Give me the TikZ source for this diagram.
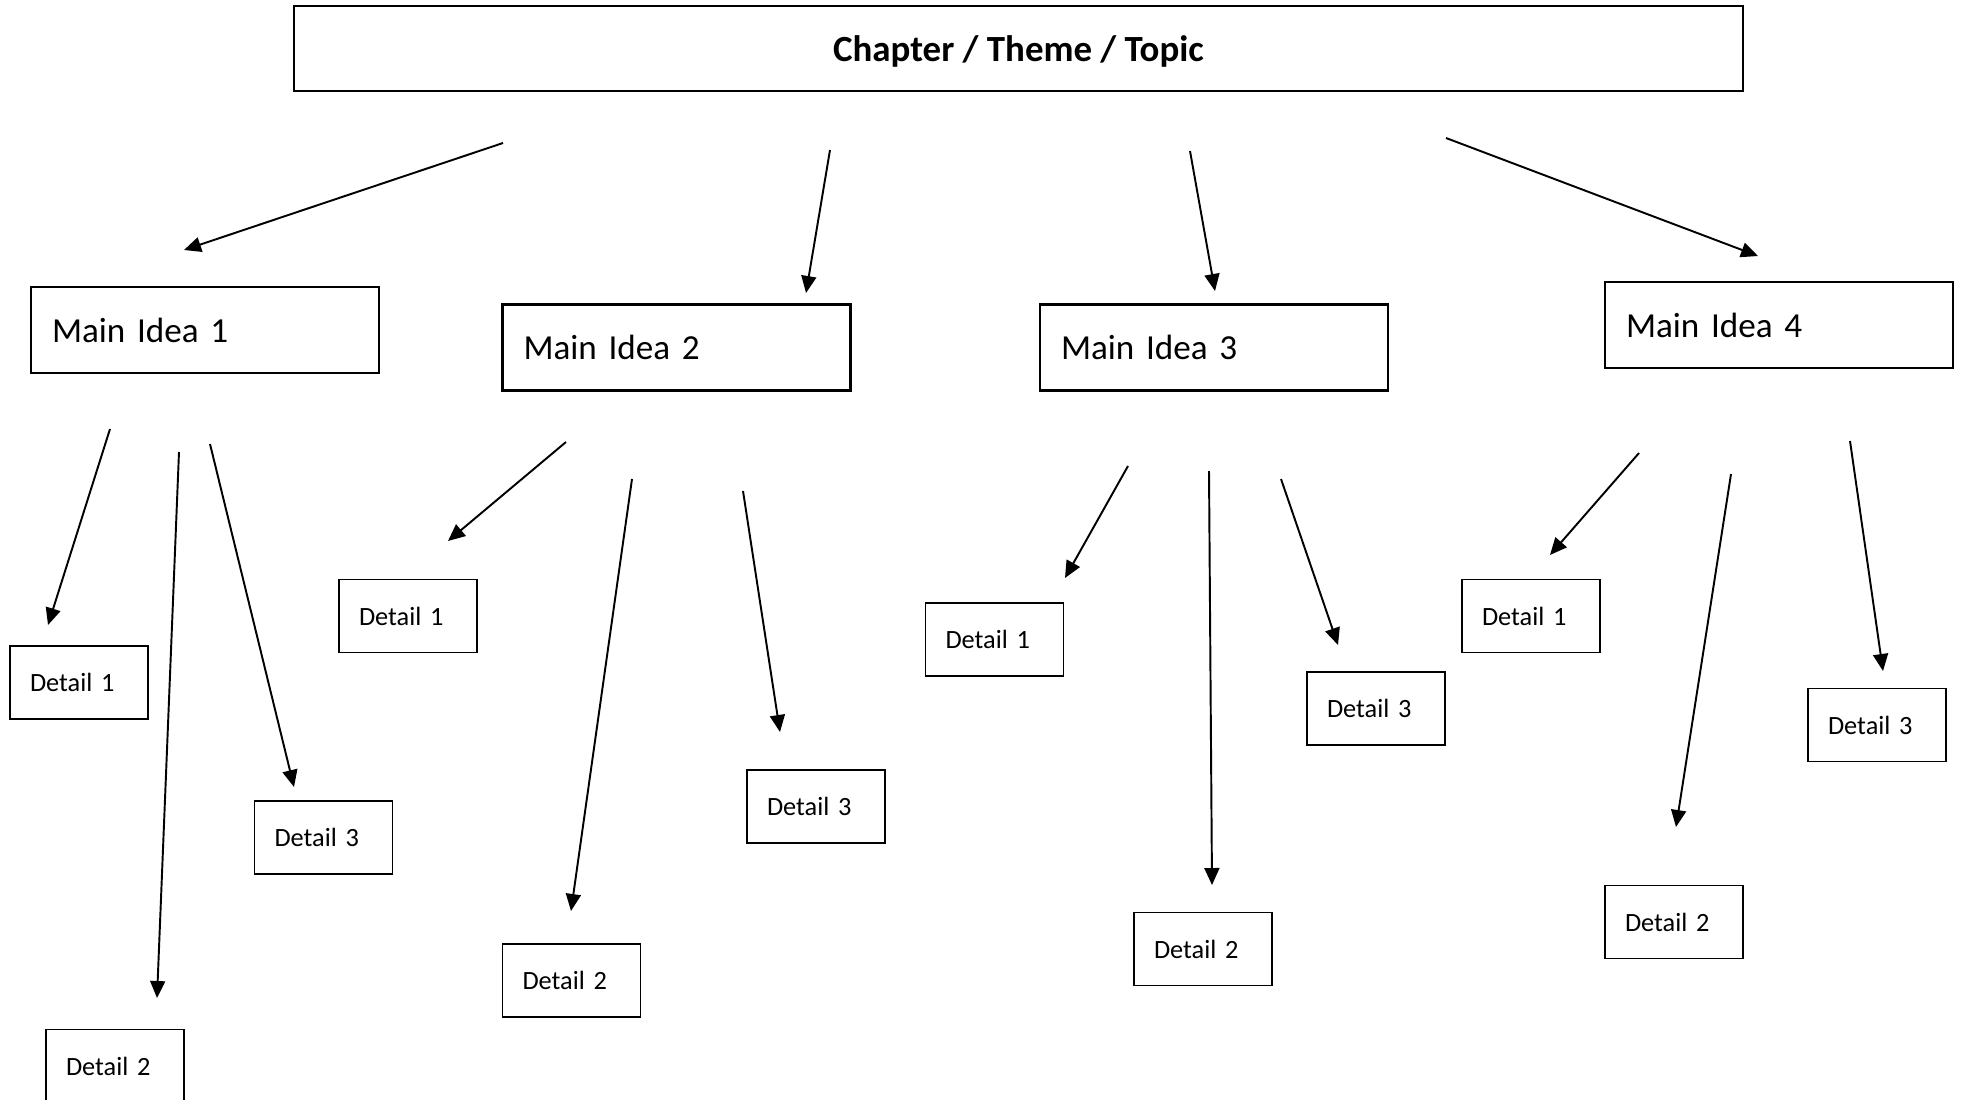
\documentclass[tikz,border=0pt]{standalone}
\usepackage{fontspec}
\setmainfont{Carlito}
\usetikzlibrary{arrows.meta}
\begin{document}
\begin{tikzpicture} [x=0.02cm,y=-0.02cm,topv/.style={rectangle, draw, line width=1.2pt, minimum width=28.98cm, minimum height=1.7cm, text depth=0pt, font=\fontsize{21}{25}\selectfont\bfseries},ideav/.style={rectangle, draw, line width=1.2pt, inner xsep=0.42cm, text width=6.12cm, align=left, minimum height=1.72cm, font=\fontsize{20}{24}\selectfont},detv/.style={rectangle, draw, line width=1.1pt, inner xsep=0.4cm, text width=1.96cm, align=left, minimum height=1.46cm, font=\fontsize{15}{18}\selectfont},arr/.style={-{Triangle[length=0.34cm,width=0.3cm]}, line width=1.1pt}]
  \fill[white] (0,0) rectangle (1963,1099);
  \useasboundingbox (0,0) rectangle (1963,1099);

  \node[topv] (top) at (1018.5,48.5) {Chapter / Theme / Topic};

  \node[ideav] (m1) at (205,330) {Main Idea 1};
  \node[ideav] (m2) at (676.5,347.5) {Main Idea 2};
  \node[ideav] (m3) at (1214,347.5) {Main Idea 3};
  \node[ideav] (m4) at (1779,325) {Main Idea 4};

  \node[detv] (d11) at (79,682.5) {Detail 1};
  \node[detv] (d12) at (115,1066) {Detail 2};
  \node[detv] (d13) at (323.5,837.5) {Detail 3};
  \node[detv] (d21) at (408,616) {Detail 1};
  \node[detv] (d22) at (571.5,980.5) {Detail 2};
  \node[detv] (d23) at (816,806.5) {Detail 3};
  \node[detv] (d31) at (994.5,639.5) {Detail 1};
  \node[detv] (d32) at (1203,949) {Detail 2};
  \node[detv] (d33) at (1376,708.5) {Detail 3};
  \node[detv] (d41) at (1531,616) {Detail 1};
  \node[detv] (d42) at (1674,922) {Detail 2};
  \node[detv] (d43) at (1877,725) {Detail 3};

  % free ends of the arrows
  \coordinate (s1) at (503,143);   \coordinate (t1) at (184,250);
  \coordinate (s2) at (830,150);   \coordinate (t2) at (806,293);
  \coordinate (s3) at (1190,151);  \coordinate (t3) at (1215,291);
  \coordinate (s4) at (1446,138);  \coordinate (t4) at (1758,256);

  \coordinate (s11) at (110,429);  \coordinate (t11) at (48,625);
  \coordinate (s12) at (179,452);  \coordinate (t12) at (157,998);
  \coordinate (s13) at (210,444);  \coordinate (t13) at (294,787);
  \coordinate (s21) at (566,442);  \coordinate (t21) at (448,541);
  \coordinate (s22) at (632,479);  \coordinate (t22) at (571,911);
  \coordinate (s23) at (743,491);  \coordinate (t23) at (780,732);
  \coordinate (s31) at (1128,466); \coordinate (t31) at (1065,578);
  \coordinate (s32) at (1209,471); \coordinate (t32) at (1212,885);
  \coordinate (s33) at (1281,479); \coordinate (t33) at (1338,645);
  \coordinate (s41) at (1639,453); \coordinate (t41) at (1550,555);
  \coordinate (s42) at (1731,474); \coordinate (t42) at (1676,827);
  \coordinate (s43) at (1850,441); \coordinate (t43) at (1883,671);

    \draw[arr] (s1) -- (t1);
    \draw[arr] (s2) -- (t2);
    \draw[arr] (s3) -- (t3);
    \draw[arr] (s4) -- (t4);

    \draw[arr] (s11) -- (t11);
    \draw[arr] (s12) -- (t12);
    \draw[arr] (s13) -- (t13);
    \draw[arr] (s21) -- (t21);
    \draw[arr] (s22) -- (t22);
    \draw[arr] (s23) -- (t23);
    \draw[arr] (s31) -- (t31);
    \draw[arr] (s32) -- (t32);
    \draw[arr] (s33) -- (t33);
    \draw[arr] (s41) -- (t41);
    \draw[arr] (s42) -- (t42);
    \draw[arr] (s43) -- (t43);

\end{tikzpicture}
\end{document}
